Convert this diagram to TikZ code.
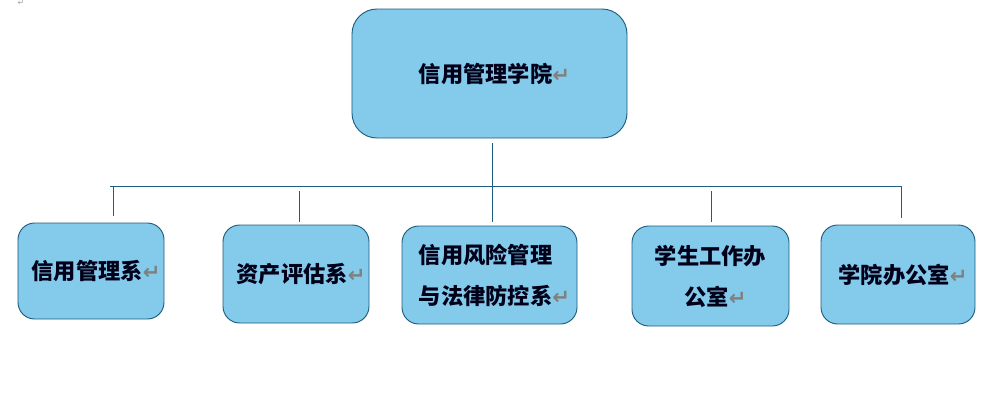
\documentclass[tikz,border=0pt]{standalone}
\usepackage{fontspec}
\newfontfamily\cjk{Noto Sans CJK SC}
\newfontfamily\retfont{DejaVu Sans}
\usepackage{tikz}
\usetikzlibrary{positioning,calc}
\definecolor{boxfill}{RGB}{131,202,235}
\definecolor{boxline}{RGB}{30,94,126}
\newcommand{\ret}{{\retfont\color{gray}\fontsize{18}{18}\selectfont ↵}}

\begin{document}
\begin{tikzpicture}[x=0.03cm,y=-0.03cm,
    unit/.style={draw=boxline,fill=boxfill,line width=0.8pt,rounded corners=0.5cm,
      font=\cjk\bfseries\fontsize{19}{35}\selectfont,text=black!90!blue,inner sep=0pt},
    link/.style={draw=boxline,line width=0.8pt}]
  \useasboundingbox (0,0) rectangle (986,409);
  \node (mark) at (21,3) {\retfont\color{gray!70}\fontsize{7}{7}\selectfont ↵};
  % top unit
  \node[unit,rounded corners=0.75cm,minimum width=8.25cm,minimum height=3.87cm] (college) at (489.5,73.5) {\hspace{0.3cm}信用管理学院\ret};
  % departments
  \node[unit,minimum width=4.38cm,minimum height=2.88cm] (dept1) at (91,271) {\hspace{0.3cm}信用管理系\ret};
  \node[unit,minimum width=4.38cm,minimum height=2.94cm] (dept2) at (296,274) {\hspace{0.3cm}资产评估系\ret};
  \node[unit,minimum width=5.25cm,minimum height=2.94cm,align=left] (dept3) at (489.5,275) {\hspace{0.3cm}信用风险管理\\\hspace{0.3cm}与法律防控系\ret};
  \node[unit,minimum width=4.71cm,minimum height=3.00cm,align=center] (dept4) at (710.5,276) {学生工作办\\\hspace{0.3cm}公室\ret};
  \node[unit,minimum width=4.62cm,minimum height=2.97cm] (dept5) at (898,274.5) {\hspace{0.3cm}学院办公室\ret};
  % bus
  \coordinate (busL) at (110,186);
  \coordinate (busR) at (901,186);
  \coordinate (t1) at (113,186);
  \coordinate (t2) at (299,191);
  \coordinate (t3) at (492,143);
  \coordinate (t4) at (711,191);
  \draw[link] (busL) -- (busR);
  \draw[link] (t3) -- ([yshift=0.12cm]t3 |- dept3.north);
  \draw[link] (t1) -- ([yshift=0.21cm]t1 |- dept1.north);
  \draw[link] (t2) -- ([yshift=0.09cm]t2 |- dept2.north);
  \draw[link] (t4) -- ([yshift=0.12cm]t4 |- dept4.north);
  \draw[link] (busR) -- ([yshift=0.21cm]busR |- dept5.north);
\end{tikzpicture}
\end{document}
